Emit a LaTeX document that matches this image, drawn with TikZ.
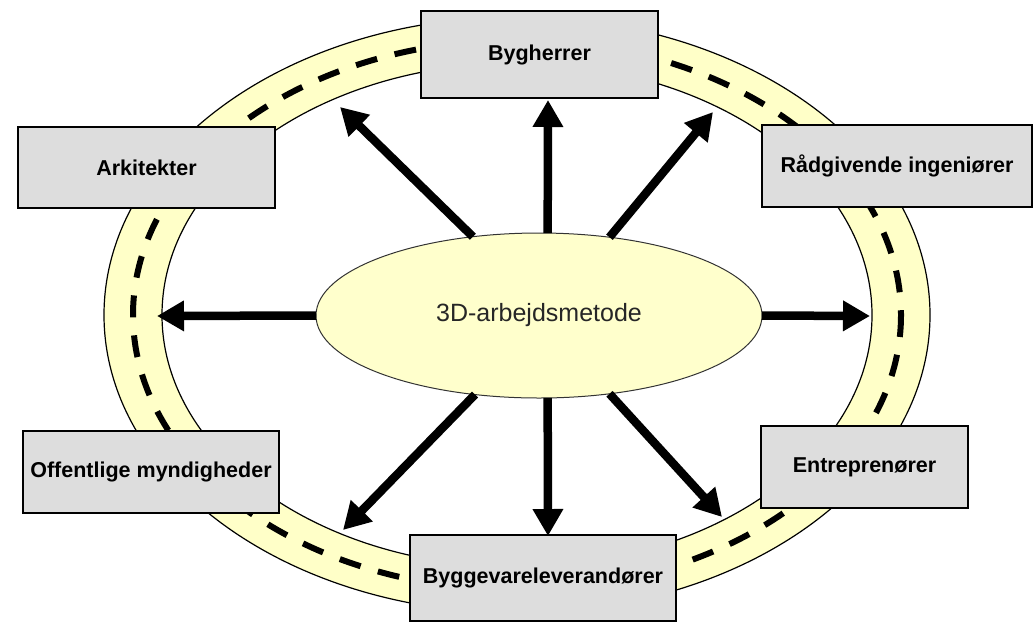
\documentclass[tikz,border=0pt]{standalone}
\usepackage{fontspec}
\setmainfont{Liberation Sans}
\usetikzlibrary{arrows.meta,shapes.geometric}
\definecolor{track}{RGB}{255,255,200}
\definecolor{hub}{RGB}{255,255,204}
\definecolor{boxgray}{RGB}{221,221,221}
\tikzset{
  x=1pt, y=-1pt,
  party/.style={draw=black, line width=2pt, fill=boxgray, inner sep=0pt, outer sep=0pt,
    font=\fontsize{21.5}{24}\selectfont\bfseries},
  spoke/.style={line width=8.5pt, -{Triangle[length=27pt,width=29pt]}},
}
\begin{document}
\begin{tikzpicture}
\useasboundingbox (0,0) rectangle (1035,625);

% the surrounding track
\fill[track, even odd rule] (517,315) ellipse [x radius=413, y radius=298]
                            (517,315) ellipse [x radius=355, y radius=252];
\draw[line width=1.2pt] (517,315) ellipse [x radius=413, y radius=298];
\draw[line width=1.2pt] (517,315) ellipse [x radius=355, y radius=252];
\draw[line width=6pt, dash pattern=on 22pt off 18pt] (517,315) ellipse [x radius=384, y radius=275];

% central method
\node[ellipse, draw=black!80, line width=1pt, fill=hub, minimum width=446pt, minimum height=165pt,
      inner sep=0pt, outer sep=0pt, font=\fontsize{25}{28}\selectfont, text=black!85]
  (c) at (539,315.5) {3D-arbejdsmetode};

% arrow targets on the track
\coordinate (tN)  at (548,100);
\coordinate (tNE) at (713,112);
\coordinate (tE)  at (870,316);
\coordinate (tSE) at (722,517);
\coordinate (tS)  at (548,536);
\coordinate (tSW) at (343,530);
\coordinate (tW)  at (157,316);
\coordinate (tNW) at (340,107);

\draw[spoke] (c.84)  -- (tN);
\draw[spoke] (c.48)  -- (tNE);
\draw[spoke] (c.east) -- (tE);
\draw[spoke] (c.312) -- (tSE);
\draw[spoke] (c.276) -- (tS);
\draw[spoke] (c.231) -- (tSW);
\draw[spoke] (c.west) -- (tW);
\draw[spoke] (c.130) -- (tNW);

% parties around the track
\node[party, minimum width=237pt, minimum height=87pt] (byg) at (539.5,54.5) {Bygherrer};
\node[party, minimum width=270pt, minimum height=82pt] (raad) at (897,166) {Rådgivende ingeniører};
\node[party, minimum width=257pt, minimum height=81pt] (ark) at (146.5,167.5) {Arkitekter};
\node[party, minimum width=256pt, minimum height=82pt] (off) at (151,472) {Offentlige myndigheder};
\node[party, minimum width=207pt, minimum height=82pt] (ent) at (864.5,467) {Entreprenører};
\node[party, minimum width=266pt, minimum height=86pt] (lev) at (543,578) {Byggevareleverandører};
\end{tikzpicture}
\end{document}
